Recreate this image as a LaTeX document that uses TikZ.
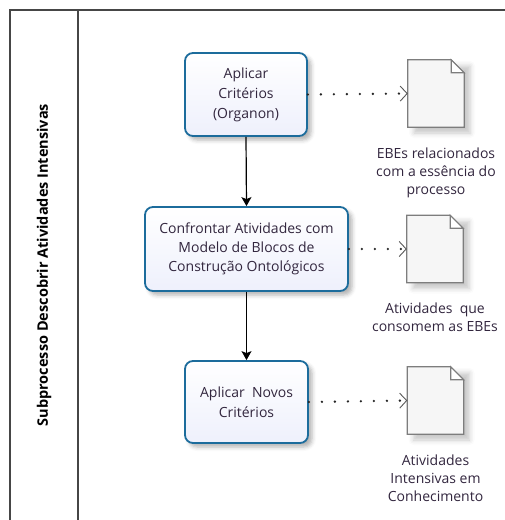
\documentclass[tikz,border=0pt]{standalone}
\usepackage{fontspec}
\setmainfont{Open Sans}
\usetikzlibrary{positioning, arrows.meta, shadows.blur}

\definecolor{boxline}{RGB}{28,108,156}
\definecolor{boxfill}{RGB}{238,240,252}
\definecolor{docline}{RGB}{125,125,125}
\definecolor{laneline}{RGB}{70,70,70}
\definecolor{txtcol}{RGB}{50,38,62}

\begin{document}
\begin{tikzpicture}[x=1pt, y=-1pt,
  every node/.style={font=\fontsize{14}{20}\selectfont, text=txtcol},
  activity/.style={draw=boxline, line width=1.8pt, rounded corners=8pt,
    top color=white, bottom color=boxfill, align=center, inner sep=0pt,
    blur shadow={shadow xshift=4pt, shadow yshift=-4pt, shadow blur radius=4pt, shadow opacity=30}},
  docnode/.style={minimum width=56pt, minimum height=67pt, inner sep=0pt,
    blur shadow={shadow xshift=6pt, shadow yshift=-6pt, shadow blur radius=5pt, shadow opacity=22}},
  doclabel/.style={align=center, font=\fontsize{14}{18}\selectfont, below=17pt of #1},
  flow/.style={-{Stealth[length=9pt, width=10pt, inset=2pt]}, line width=1.2pt, black},
  assoc/.style={line width=2.6pt, dash pattern=on 0pt off 13pt, line cap=round, black!85,
    -{Straight Barb[length=7pt, width=15pt, line width=0.9pt, line cap=butt, color=docline!70!black]}}]
  \useasboundingbox (0,0) rectangle (505,520);

  % Lane
  \draw[laneline, line width=1.8pt] (10,520) -- (10,10) -- (505,10);
  \draw[laneline, line width=1.8pt] (78,10) -- (78,520);
  \node[rotate=90, text=black, font=\bfseries\fontsize{14.5}{16}\selectfont] (lane) at (44,265)
    {Subprocesso Descobrir Atividades Intensivas};

  % Activities
  \node[activity, minimum width=122pt, minimum height=83pt] (b1) at (246,94.5)
    {Aplicar\\Critérios\\(Organon)};
  \node[activity, minimum width=203pt, minimum height=84pt,
    font=\fontsize{14}{19}\selectfont] (b2) at (246.5,249)
    {Confrontar Atividades com\\Modelo de Blocos de\\Construção Ontológicos};
  \node[activity, minimum width=123pt, minimum height=82pt] (b3) at (246.5,402)
    {Aplicar~ Novos\\Critérios};

  % Documents
  \node[docnode] (d1) at (436,93.5) {};
  \node[docnode] (d2) at (435,249) {};
  \node[docnode] (d3) at (435.5,400.5) {};
  \foreach \d in {d1,d2,d3}{
    \draw[docline, line width=1.2pt, fill=gray!7]
      (\d.south west) -- (\d.north west) -- ([xshift=-13pt]\d.north east)
      -- ([yshift=-13pt]\d.north east) -- (\d.south east) -- cycle;
    \draw[docline, line width=1.2pt, fill=white]
      ([xshift=-13pt]\d.north east) -- ([shift={(-13pt,-13pt)}]\d.north east)
      -- ([yshift=-13pt]\d.north east) -- cycle;
  }
  \node[doclabel=d1] (l1) {EBEs relacionados\\com a essência do\\processo};
  \node[doclabel=d2] (l2) {Atividades~ que\\consomem as EBEs};
  \node[doclabel=d3] (l3) {Atividades\\Intensivas em\\Conhecimento};

  % Connectors
  \draw[flow] (b1.south) -- (b2.north);
  \draw[flow] (b2.south) -- (b3.north);
  \draw[assoc] (b1.east) -- (d1.west);
  \draw[assoc] (b2.east) -- (d2.west);
  \draw[assoc] (b3.east) -- (d3.west);
\end{tikzpicture}
\end{document}
